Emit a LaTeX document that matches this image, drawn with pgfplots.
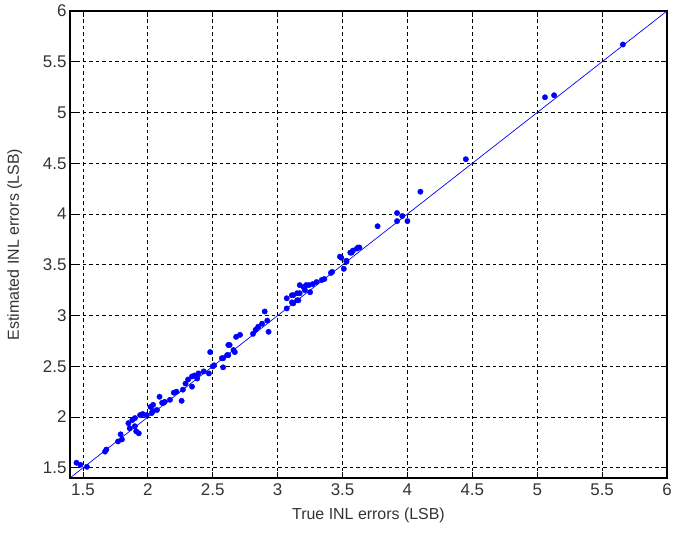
\documentclass[border=0pt]{standalone}
\usepackage{fontspec}
\setmainfont{Liberation Sans}
\usepackage{pgfplots}
\pgfplotsset{compat=1.18}

\begin{document}
\begin{tikzpicture}
  \begin{axis}[
    scale only axis,
    width=597bp, height=467bp,
    xmin=1.4, xmax=6, ymin=1.4, ymax=6,
    xtick={1.5,2,...,6}, ytick={1.5,2,...,6},
    xticklabels={1.5,2,2.5,3,3.5,4,4.5,5,5.5,6},
    yticklabels={1.5,2,2.5,3,3.5,4,4.5,5,5.5,6},
    tick align=inside, major tick length=6bp,
    xtick pos=both, ytick pos=both,
    axis line style={black, line width=1.1pt},
    tick style={black, line width=0.9pt},
    grid=major,
    major grid style={black, line width=0.9pt, dash pattern=on 3.5bp off 3bp},
    tick label style={font=\fontsize{17}{20}\selectfont, text=black!80},
    xticklabel style={yshift=-2bp},
    label style={font=\fontsize{16}{19}\selectfont, text=black!80},
    xlabel={True INL errors (LSB)},
    ylabel={Estimated INL errors (LSB)},
    xlabel style={yshift=-6bp},
    ylabel style={yshift=14bp},
    /pgf/number format/assume math mode=true,
  ]
    \addplot[blue, line width=0.7pt] coordinates {(1.4,1.4) (6,6)};
    \addplot[only marks, mark=*, mark size=2.7bp, blue, mark options={fill=blue, draw=blue}]
      coordinates {
        (1.45,1.55) (1.48,1.53) (1.53,1.51) (1.67,1.66) (1.68,1.68) (1.77,1.76)
        (1.80,1.78) (1.79,1.83) (1.86,1.89) (1.91,1.86) (1.93,1.84) (1.85,1.94)
        (1.88,1.97) (1.90,1.99) (1.90,1.91) (1.94,2.02) (1.96,2.03) (1.99,2.02)
        (2.02,2.10) (2.04,2.06) (2.03,2.04) (2.07,2.07) (2.11,2.14) (2.13,2.15)
        (2.17,2.17) (2.09,2.20) (2.12,2.14) (2.04,2.12) (2.20,2.24) (2.22,2.25)
        (2.26,2.16) (2.27,2.27) (2.29,2.33) (2.31,2.37) (2.34,2.30) (2.34,2.40)
        (2.36,2.41) (2.38,2.38) (2.39,2.43) (2.43,2.45) (2.47,2.43) (2.48,2.64)
        (2.51,2.51) (2.50,2.50) (2.58,2.49) (2.58,2.58) (2.57,2.58) (2.61,2.61)
        (2.62,2.61) (2.66,2.66) (2.67,2.64) (2.62,2.71) (2.63,2.71) (2.68,2.79)
        (2.71,2.81) (2.81,2.82) (2.83,2.86) (2.85,2.89) (2.88,2.92) (2.92,2.95)
        (2.93,2.84) (2.90,3.04) (3.07,3.07) (3.07,3.17) (3.12,3.12) (3.11,3.13)
        (3.15,3.15) (3.16,3.15) (3.11,3.20) (3.12,3.20) (3.15,3.22) (3.17,3.22)
        (3.17,3.30) (3.20,3.28) (3.21,3.25) (3.22,3.30) (3.24,3.30) (3.25,3.23)
        (3.27,3.31) (3.30,3.33) (3.34,3.35) (3.36,3.36) (3.42,3.43) (3.41,3.42)
        (3.49,3.57) (3.48,3.58) (3.51,3.46) (3.53,3.54) (3.53,3.53) (3.56,3.62)
        (3.57,3.62) (3.58,3.64) (3.61,3.66) (3.62,3.67) (3.63,3.67) (3.77,3.88)
        (3.92,4.01) (3.96,3.98) (3.92,3.93) (4.00,3.93) (4.10,4.22) (4.45,4.54)
        (5.06,5.15) (5.13,5.17) (5.66,5.67)
      };
  \end{axis}
  \pgfresetboundingbox
  \useasboundingbox ([shift={(-70bp,-58bp)}]current axis.south west)
    rectangle ([shift={(23bp,11bp)}]current axis.north east);
\end{tikzpicture}
\end{document}
